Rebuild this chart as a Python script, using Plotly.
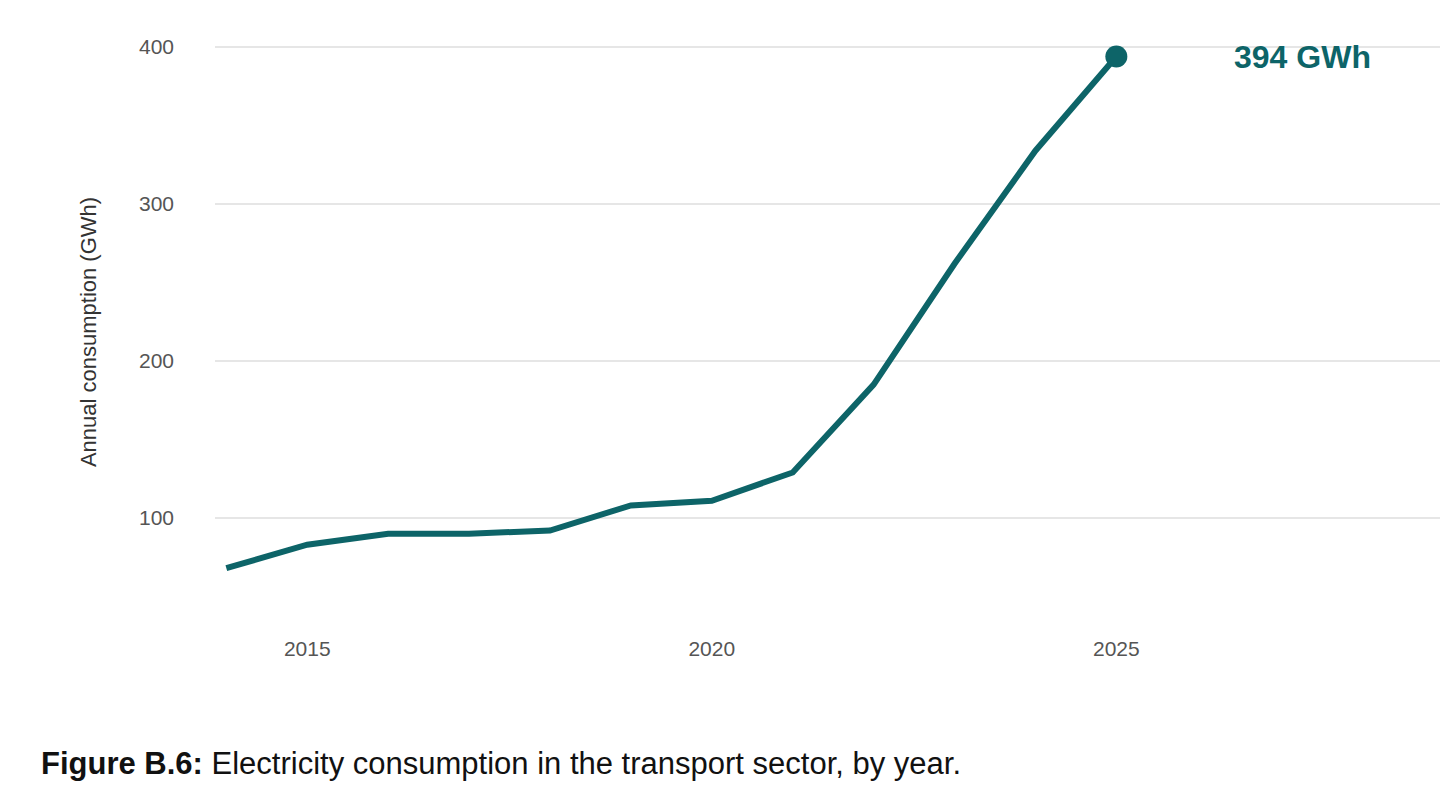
import plotly.graph_objects as go

years = [2014, 2015, 2016, 2017, 2018, 2019, 2020, 2021, 2022, 2023, 2024, 2025]
consumption = [68, 83, 90, 90, 92, 108, 111, 129, 185, 262, 334, 394]
color = "#0d6468"

fig = go.Figure()
fig.add_trace(go.Scatter(x=years, y=consumption, mode="lines",
                         line=dict(color=color, width=6), hoverinfo="skip"))
fig.add_trace(go.Scatter(x=[years[-1]], y=[consumption[-1]], mode="markers",
                         marker=dict(color=color, size=22)))
fig.add_annotation(x=2027.3, y=394, text="<b>394 GWh</b>", showarrow=False,
                   font=dict(size=32, color=color, family="Liberation Sans"))
fig.add_annotation(x=0, y=0, xref="paper", yref="paper", xanchor="left", yanchor="top",
                   xshift=-176, yshift=-124, showarrow=False,
                   text="<b>Figure B.6:</b> Electricity consumption in the transport sector, by year.",
                   font=dict(size=31, color="#111", family="Liberation Sans"))
fig.update_layout(
    width=1456, height=809, showlegend=False,
    plot_bgcolor="white", paper_bgcolor="white",
    margin=dict(l=207, r=24, t=36, b=197),
    font=dict(family="Liberation Sans", color="#555", size=21),
    xaxis=dict(range=[2013.86, 2029], tickvals=[2015, 2020, 2025], showgrid=False,
               zeroline=False, showline=False, ticks="", ticklabelstandoff=14),
    yaxis=dict(range=[35, 402], tickvals=[100, 200, 300, 400], showgrid=True,
               gridcolor="#e6e6e6", gridwidth=1.5, zeroline=False, ticks="",
               ticklabelstandoff=40,
               title=dict(text="Annual consumption (GWh)", font=dict(size=22, color="#333"), standoff=36)),
)
fig.write_html("out.html")
